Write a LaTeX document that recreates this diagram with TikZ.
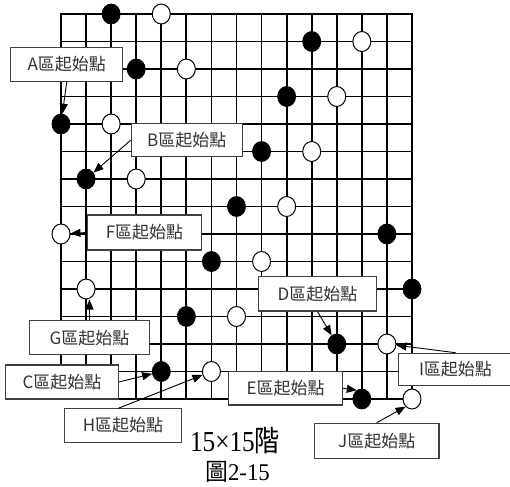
\documentclass[tikz,border=0pt]{standalone}
\usepackage{fontspec}
\setmainfont{Liberation Serif}
\newfontfamily\cjk{Noto Sans CJK TC}
\usetikzlibrary{arrows.meta,shapes.geometric}
\begin{document}
\begin{tikzpicture}[x=1pt,y=-1pt,
  gridline/.style={line width=1.8pt,line cap=rect},
  bstone/.style={ellipse,draw=black,fill=black,minimum width=18pt,minimum height=20pt,inner sep=0pt,line width=0.8pt},
  wstone/.style={ellipse,draw=black,fill=white,minimum width=18pt,minimum height=20pt,inner sep=0pt,line width=1pt},
  lab/.style={draw=black!75,line width=1.2pt,fill=white,inner sep=0pt,text=black!80,font=\cjk\fontsize{17}{17}\selectfont},
  pointer/.style={line width=0.9pt,-{Triangle[length=10pt,width=8pt]}}]
\useasboundingbox (0,0) rectangle (510,486);
% grid
\foreach \i in {0,...,14} {
  \draw[gridline] ({61+25.07*\i},14) -- ({61+25.07*\i},399);
  \draw[gridline] (61,{14+27.5*\i}) -- (412,{14+27.5*\i});
}
% black stones
\foreach \c/\r in {2/0,3/2,0/4,1/6,7/7,10/1,9/3,8/5,13/8,6/9,5/11,4/13,14/10,11/12,12/14}
  \node[bstone] (b-\c-\r) at ({61+25.07*\c},{14+27.5*\r}) {};
% white stones
\foreach \c/\r in {4/0,5/2,2/4,3/6,0/8,12/1,11/3,10/5,9/7,8/9,1/10,7/11,6/13,13/12,14/14}
  \node[wstone] (w-\c-\r) at ({61+25.07*\c},{14+27.5*\r}) {};
% labels
\node[lab,minimum width=112pt,minimum height=34pt] (lA) at (66.7,64.5) {A區起始點};
\node[lab,minimum width=111pt,minimum height=33pt] (lB) at (186.7,140.3) {B區起始點};
\node[lab,minimum width=114pt,minimum height=35pt] (lF) at (144.5,232.5) {F區起始點};
\node[lab,minimum width=120pt,minimum height=34pt] (lG) at (89.5,337.8) {G區起始點};
\node[lab,minimum width=112.6pt,minimum height=34pt] (lC) at (62,382) {C區起始點};
\node[lab,minimum width=117.4pt,minimum height=34pt] (lH) at (123,425.5) {H區起始點};
\node[lab,minimum width=114pt,minimum height=33.3pt] (lE) at (285.7,388.3) {E區起始點};
\node[lab,minimum width=118.4pt,minimum height=34.3pt] (lD) at (317.5,293.8) {D區起始點};
\node[lab,minimum width=114.4pt,minimum height=32.4pt] (lI) at (455.5,369.5) {I區起始點};
\node[lab,minimum width=124.7pt,minimum height=35pt] (lJ) at (376.7,440.8) {J區起始點};
% arrows
\coordinate (hs) at (118.3,408.3);
\draw[pointer] (lA.south) -- (b-0-4);
\draw[pointer] (lB.west) -- (b-1-6);
\draw[pointer] (lF.west) -- (w-0-8);
\draw[pointer] (lG.north) -- (lG.north |- w-1-10.south);
\draw[pointer] (lC.east) -- (b-4-13);
\draw[pointer] (hs) -- (w-6-13);
\draw[pointer] (lE.east) -- (b-12-14.120);
\draw[pointer] (lD.south) -- (b-11-12);
\draw[pointer] (lI.north) -- (w-13-12);
\draw[pointer] (lJ.north) -- (w-14-14.230);
% caption
\node[anchor=base,inner sep=0pt,font=\fontsize{29}{29}\selectfont] (cap1) at (235,451)
  {\scalebox{0.87}[1]{15×15{\cjk 階}}};
\node[anchor=base,inner sep=0pt,font=\fontsize{24}{24}\selectfont] (cap2) at (237.5,480)
  {\scalebox{0.95}[1]{{\cjk 圖}2-15}};
\end{tikzpicture}
\end{document}
